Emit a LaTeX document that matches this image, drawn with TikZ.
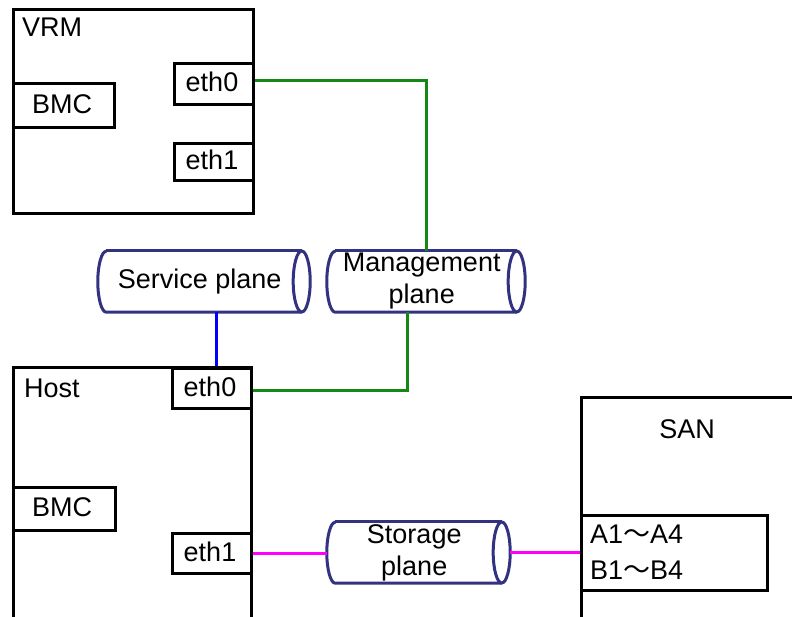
\documentclass[tikz,border=0pt]{standalone}
\usepackage{fontspec}
\setmainfont{Liberation Sans}
\newfontfamily\cjk{Noto Sans CJK SC}
\definecolor{mgmtgreen}{RGB}{20,135,20}
\definecolor{svcblue}{RGB}{0,0,255}
\definecolor{stormag}{RGB}{255,0,255}
\definecolor{pipenavy}{RGB}{50,50,128}

\tikzset{
  box/.style={draw=black, line width=3pt, rectangle, inner sep=0pt, anchor=north west},
  port/.style={box, font=\fontsize{27}{31}\selectfont},
  lbl/.style={inner sep=0pt, font=\fontsize{27}{31}\selectfont},
  pipe/.style={rectangle, inner sep=0pt, minimum height=61pt, align=center,
               font=\fontsize{27}{32}\selectfont},
  pipeline/.style={draw=pipenavy, line width=3pt},
  mgmtlink/.style={draw=mgmtgreen, line width=3pt},
  svclink/.style={draw=svcblue, line width=3pt},
  storlink/.style={draw=stormag, line width=3pt},
}

% outline of a horizontal pipe around the body node #1
\newcommand{\pipeoutline}[1]{%
  \draw[pipeline] ([xshift=8.5pt]#1.north west) -- (#1.north east);
  \draw[pipeline] (#1.south east) -- ([xshift=8.5pt]#1.south west)
     arc[start angle=270, end angle=90, x radius=8.5pt, y radius=30.5pt];
  \draw[pipeline] (#1.east) ellipse [x radius=8.5pt, y radius=30.5pt];
}

\begin{document}
\begin{tikzpicture}[x=1pt, y=-1pt]
\useasboundingbox (0,0) rectangle (792,616);
\clip (0,0) rectangle (792,616);
\fill[white] (0,0) rectangle (792,616);

% VRM
\node[box, minimum width=240pt, minimum height=204pt] (vrm) at (12,8) {};
\node[lbl, anchor=west] (vrmname) at (22,27) {VRM};
\node[port, minimum width=101pt, minimum height=44pt] (vbmc) at (12,82) {};
\node[lbl] (vbmctext) at (62,104) {BMC};
\node[port, minimum width=79pt, minimum height=41pt] (veth0) at (173,62) {};
\node[lbl] (veth0text) at (212,82) {eth0};
\node[port, minimum width=79pt, minimum height=37pt] (veth1) at (173,142) {};
\node[lbl] (veth1text) at (212,160) {eth1};

% Host
\node[box, minimum width=238pt, minimum height=300pt] (host) at (12,366) {};
\node[lbl, anchor=west] (hostname) at (24,388) {Host};
\node[port, minimum width=79pt, minimum height=40pt] (heth0) at (171,367) {};
\node[lbl] (heth0text) at (210,387) {eth0};
\node[port, minimum width=102pt, minimum height=43pt] (hbmc) at (12,486) {};
\node[lbl] (hbmctext) at (62,507) {BMC};
\node[port, minimum width=79pt, minimum height=40pt] (heth1) at (171,532) {};
\node[lbl] (heth1text) at (210,552) {eth1};

% SAN
\node[box, minimum width=300pt, minimum height=300pt] (san) at (580,396) {};
\node[lbl] (sanname) at (687,429) {SAN};
\node[box, minimum width=186pt, minimum height=75pt] (sanports) at (580,514) {};
\node[lbl, anchor=west] (portsa) at (590,534) {A1{\cjk ～}A4};
\node[lbl, anchor=west] (portsb) at (590,570) {B1{\cjk ～}B4};

% planes
\node[pipe, minimum width=203.5pt] (svc) at (199.75,281.5) {Service plane};
\node[pipe, minimum width=189.5pt] (mgmt) at (421.75,281.5) {Management\\plane};
\node[pipe, minimum width=174.5pt] (stor) at (414.25,552.5) {Storage\\plane};
\pipeoutline{svc}
\pipeoutline{mgmt}
\pipeoutline{stor}

% links
\draw[mgmtlink] ([yshift=4pt]veth0.east) -| ([xshift=4.25pt]mgmt.north);
\draw[mgmtlink] ([xshift=-14.75pt]mgmt.south) |- ([yshift=-2pt]heth0.east);
\draw[svclink] ([xshift=16.25pt]svc.south) -- ([xshift=16.25pt]svc.south |- host.north);
\draw[storlink] (heth1.east) -- (heth1.east -| stor.west);
\draw[storlink] ([xshift=8.5pt]stor.east) -- (san.west |- stor.east);
\end{tikzpicture}
\end{document}
